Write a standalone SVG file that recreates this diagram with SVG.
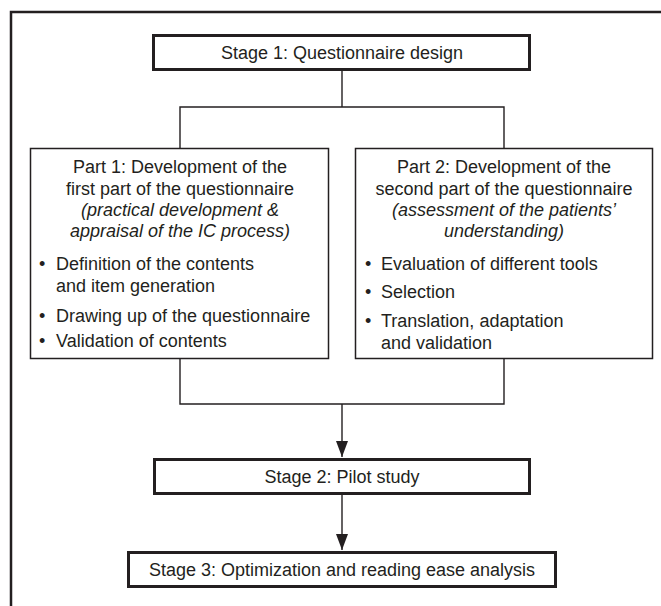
<svg xmlns="http://www.w3.org/2000/svg" width="661" height="606" viewBox="0 0 661 606">
<style>
.t{font-family:"Liberation Sans",Arial,sans-serif;font-size:18px;fill:#231f20}
.c{text-anchor:middle}
.i{font-style:italic}
.stage{fill:#fff;stroke:#231f20;stroke-width:3}
.part{fill:#fff;stroke:#231f20;stroke-width:1.5}
.ln{fill:none;stroke:#231f20;stroke-width:1.4}
</style>
<defs>
<marker id="ah" viewBox="0 0 12 16" refX="12" refY="8" markerWidth="12" markerHeight="16" markerUnits="userSpaceOnUse" orient="auto">
<path d="M0,2 L12,8 L0,14 Z" fill="#231f20"/>
</marker>
<marker id="arr" viewBox="0 0 16 12" refX="16" refY="6" markerWidth="16" markerHeight="12" markerUnits="userSpaceOnUse" orient="auto">
<path d="M0,0 L16,6 L0,12 Z" fill="#231f20"/>
</marker>
</defs>
<rect x="11" y="12" width="700" height="700" fill="none" stroke="#231f20" stroke-width="2.5"/>
<g id="connectors">
<line class="ln" x1="342" y1="71" x2="342" y2="107"/>
<polyline class="ln" points="180,148 180,107 504,107 504,148"/>
<polyline class="ln" points="180,359 180,404 504,404 504,359"/>
<line class="ln" x1="342" y1="404" x2="342" y2="457" marker-end="url(#arr)"/>
<line class="ln" x1="342" y1="495" x2="342" y2="550" marker-end="url(#arr)"/>
</g>
<g id="stage1">
<rect class="stage" x="153.5" y="35.5" width="376" height="34"/>
<text class="t c" x="342" y="59">Stage 1: Questionnaire design</text>
</g>
<g id="part1">
<rect class="part" x="30.5" y="148.5" width="298" height="210"/>
<text class="t c" x="180" y="173">Part 1: Development of the</text>
<text class="t c" x="180" y="195">first part of the questionnaire</text>
<text class="t c i" x="180" y="216">(practical development &amp;</text>
<text class="t c i" x="180" y="237">appraisal of the IC process)</text>
<text class="t" x="39" y="270">•</text>
<text class="t" x="56" y="270">Definition of the contents</text>
<text class="t" x="56" y="292">and item generation</text>
<text class="t" x="39" y="322">•</text>
<text class="t" x="56" y="322">Drawing up of the questionnaire</text>
<text class="t" x="39" y="347">•</text>
<text class="t" x="56" y="347">Validation of contents</text>
</g>
<g id="part2">
<rect class="part" x="355.5" y="148.5" width="297" height="210"/>
<text class="t c" x="504" y="173">Part 2: Development of the</text>
<text class="t c" x="504" y="195">second part of the questionnaire</text>
<text class="t c i" x="504" y="216">(assessment of the patients’</text>
<text class="t c i" x="504" y="237">understanding)</text>
<text class="t" x="365" y="270">•</text>
<text class="t" x="381" y="270">Evaluation of different tools</text>
<text class="t" x="365" y="298">•</text>
<text class="t" x="381" y="298">Selection</text>
<text class="t" x="365" y="327">•</text>
<text class="t" x="381" y="327">Translation, adaptation</text>
<text class="t" x="381" y="349">and validation</text>
</g>
<g id="stage2">
<rect class="stage" x="154.5" y="459.5" width="375" height="34"/>
<text class="t c" x="342" y="483">Stage 2: Pilot study</text>
</g>
<g id="stage3">
<rect class="stage" x="128.5" y="552.5" width="427" height="34"/>
<text class="t c" x="342" y="576">Stage 3: Optimization and reading ease analysis</text>
</g>
</svg>
